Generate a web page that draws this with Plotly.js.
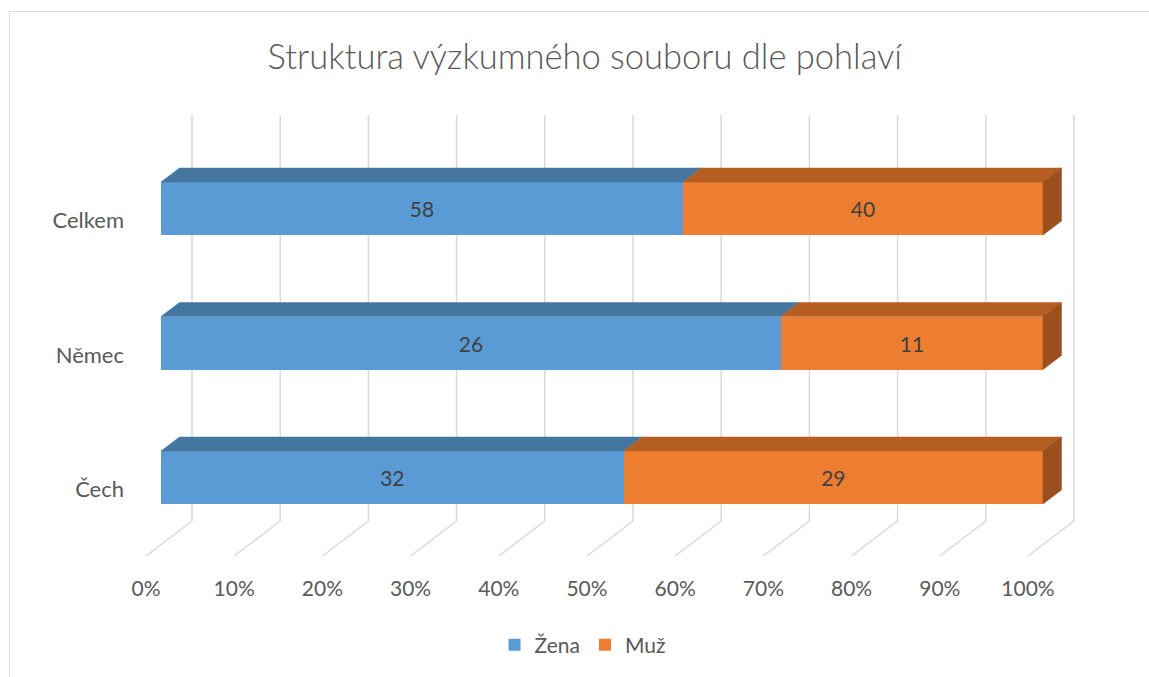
<!DOCTYPE html>
<html>
<head>
<meta charset="utf-8">
<script src="https://cdn.plot.ly/plotly-3.0.1.min.js"></script>
<style>
  html, body { margin: 0; padding: 0; background: #fff; }
  #wrap { position: relative; width: 1149px; height: 677px; }
  #chart { width: 1149px; height: 677px; }
  #frame { position: absolute; left: 9px; top: 11px; right: -2px; bottom: -2px;
           border-top: 1.5px solid #d9d9d9; border-left: 1.5px solid #d9d9d9; pointer-events: none; }
</style>
</head>
<body>
<div id="wrap">
  <div id="chart"></div>
  <div id="frame"></div>
</div>
<script>
// ---- data ----
const categories = ['Čech', 'Němec', 'Celkem'];
const zena = [32, 26, 58];
const muz = [29, 11, 40];
const seriesNames = ['Žena', 'Muž'];
const xTickValues = [0, 10, 20, 30, 40, 50, 60, 70, 80, 90, 100];
const xTickLabels = ['0%', '10%', '20%', '30%', '40%', '50%', '60%', '70%', '80%', '90%', '100%'];

// ---- geometry of the pseudo-3D projection (pixels -> axis units) ----
const ML = 128, MR = 49, MT = 100, MB = 107, W = 1149, H = 677;
const PX = 8.82;      // px per percent
const PY = 134.5;     // px per category
const plotW = W - ML - MR, plotH = H - MT - MB;
const xLo = -(161 - ML) / PX, xHi = xLo + plotW / PX;
const yHi = (477.5 - MT) / PY, yLo = yHi - plotH / PY;
const BW = 53 / PY;             // bar thickness
const DX = 18.5 / PX, DY = 14 / PY;   // bar depth
const WX = 31 / PX;             // back wall offset
const wallBot = -43.5 / PY, wallTop = 362.5 / PY;
const FX = -15 / PX, floorY = -78.5 / PY;
const labelShiftY = 12 / PY;

const colFront = ['#5b9bd5', '#ed7d31'];
const colTop = ['#44769f', '#b55e22'];
const colSide = ['#3a6690', '#9a4f1c'];

const yIdx = categories.map((c, i) => i);
const totals = zena.map((z, i) => z + muz[i]);
const pz = zena.map((z, i) => z / totals[i] * 100);
const pm = muz.map((m, i) => m / totals[i] * 100);

const font = 'Lato, "Open Sans", sans-serif';
const traces = [];

// front faces (library-normalised 100% stacked bars)
[zena, muz].forEach((vals, s) => {
  traces.push({
    type: 'bar', orientation: 'h', name: seriesNames[s],
    x: vals, y: yIdx, width: BW,
    text: vals.map(String), textposition: 'inside', insidetextanchor: 'middle',
    textangle: 0, constraintext: 'none',
    textfont: { family: font, size: 21, color: '#404040' },
    marker: { color: colFront[s], line: { width: 0 } },
    hoverinfo: 'skip'
  });
});

// top and side faces
yIdx.forEach(i => {
  const yt = i + BW / 2, yb = i - BW / 2;
  const segs = [[0, pz[i]], [pz[i], pz[i] + pm[i]]];
  segs.forEach((sg, s) => {
    traces.push({
      type: 'scatter', mode: 'lines', fill: 'toself', fillcolor: colTop[s],
      line: { width: 0.5, color: colTop[s] }, showlegend: false, hoverinfo: 'skip',
      x: [sg[0], sg[1], sg[1] + DX, sg[0] + DX, sg[0]],
      y: [yt, yt, yt + DY, yt + DY, yt]
    });
  });
  const xe = pz[i] + pm[i];
  traces.push({
    type: 'scatter', mode: 'lines', fill: 'toself', fillcolor: colSide[1],
    line: { width: 0.5, color: colSide[1] }, showlegend: false, hoverinfo: 'skip',
    x: [xe, xe + DX, xe + DX, xe, xe],
    y: [yt, yt + DY, yb + DY, yb, yt]
  });
});

// gridlines on back wall and floor
const shapes = [];
xTickValues.forEach(v => {
  shapes.push({ type: 'line', layer: 'below', xref: 'x', yref: 'y',
    x0: v + WX, x1: v + WX, y0: wallBot, y1: wallTop,
    line: { color: '#d9d9d9', width: 1.5 } });
  shapes.push({ type: 'line', layer: 'below', xref: 'x', yref: 'y',
    x0: v + WX, x1: v + FX, y0: wallBot, y1: floorY,
    line: { color: '#d9d9d9', width: 1.5 } });
});

const layout = {
  width: W, height: H,
  margin: { l: ML, r: MR, t: MT, b: MB },
  paper_bgcolor: '#ffffff', plot_bgcolor: 'rgba(0,0,0,0)',
  barmode: 'stack', barnorm: 'percent', bargap: 0,
  hovermode: false,
  font: { family: font, color: '#595959', size: 21 },
  title: {
    text: 'Struktura výzkumného souboru dle pohlaví',
    font: { family: font, size: 34.5, color: '#595959', weight: 300 },
    xref: 'container', yref: 'container', x: 0.509, y: 1 - 57 / H,
    xanchor: 'center', yanchor: 'middle'
  },
  xaxis: {
    range: [xLo, xHi], showgrid: false, zeroline: false, showline: false,
    tickmode: 'array', tickvals: xTickValues.map(v => v + FX), ticktext: xTickLabels,
    ticks: '', ticklabelstandoff: 4,
    tickfont: { family: font, size: 21, color: '#595959' }, fixedrange: true
  },
  yaxis: {
    range: [yLo, yHi], showgrid: false, zeroline: false, showline: false,
    tickmode: 'array', tickvals: yIdx.map(i => i - labelShiftY), ticktext: categories,
    ticks: '', ticklabelstandoff: 3,
    tickfont: { family: font, size: 22, color: '#595959' }, fixedrange: true
  },
  shapes: shapes,
  showlegend: true,
  legend: {
    orientation: 'h', xref: 'container', yref: 'container',
    x: 0.507, y: 1 - 645 / H, xanchor: 'center', yanchor: 'middle',
    font: { family: font, size: 21, color: '#595959' },
    itemwidth: 30, traceorder: 'normal', itemclick: false, itemdoubleclick: false
  }
};

Plotly.newPlot('chart', traces, layout, { displayModeBar: false, staticPlot: true });
</script>
</body>
</html>
